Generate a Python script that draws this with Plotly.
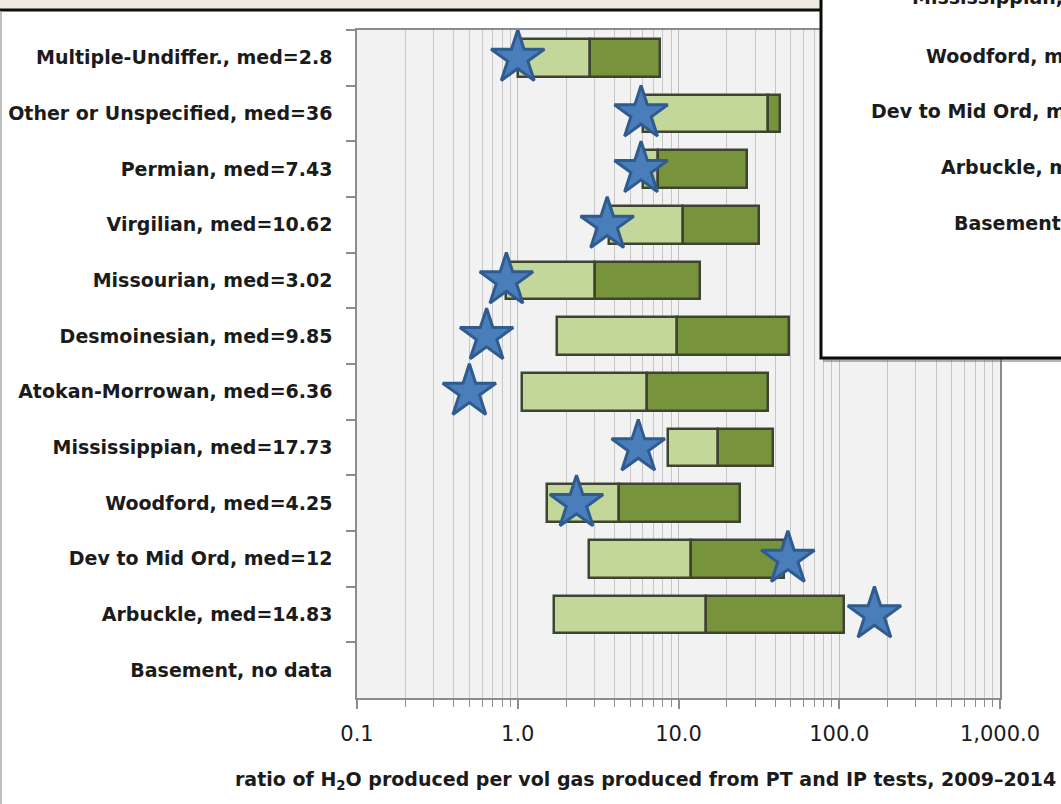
import plotly.graph_objects as go

# ---------------- data ----------------
categories = [
    "Multiple-Undiffer., med=2.8",
    "Other or Unspecified, med=36",
    "Permian, med=7.43",
    "Virgilian, med=10.62",
    "Missourian, med=3.02",
    "Desmoinesian, med=9.85",
    "Atokan-Morrowan, med=6.36",
    "Mississippian, med=17.73",
    "Woodford, med=4.25",
    "Dev to Mid Ord, med=12",
    "Arbuckle, med=14.83",
    "Basement, no data",
]
q1 = [1.0, 5.99, 5.99, 3.68, 0.85, 1.76, 1.06, 8.64, 1.51, 2.78, 1.67, None]
median = [2.8, 36, 7.43, 10.62, 3.02, 9.85, 6.36, 17.73, 4.25, 12, 14.83, None]
q3 = [7.67, 42.8, 26.6, 31.7, 13.6, 48.5, 35.9, 38.9, 24.1, 45.5, 106.4, None]
star_vals = [1.0, 5.85, 5.85, 3.6, 0.85, 0.64, 0.50, 5.62, 2.32, 47.9, 165.5, None]

xtick_vals = [0.1, 1, 10, 100, 1000]
xtick_text = ["0.1", "1.0", "10.0", "100.0", "1,000.0"]

overlay_labels = ["Mississippian, med=", "Woodford, med=", "Dev to Mid Ord, med=",
                  "Arbuckle, med=", "Basement, no data"]

axis_title = "ratio of H<sub>2</sub>O produced per vol gas produced from PT and IP tests, 2009\u20132014"

# ---------------- geometry helpers (page pixels -> paper) ----------------
W, H = 1061, 804
L, R, T, B = 357, 1000, 30, 698


def px(x):
    return (x - L) / (R - L)


def py(y):
    return (B - y) / (B - T)


FONT = "DejaVu Sans"
TXT = "#1b1b1b"
LIGHT = "#c4d79b"
DARK = "#77933c"
EDGE = "#3e4431"

cats_b, low_base, low_len, up_base, up_len = [], [], [], [], []
for c, a, m, b in zip(categories, q1, median, q3):
    if a is None:
        continue
    cats_b.append(c)
    low_base.append(a)
    low_len.append(m - a)
    up_base.append(m)
    up_len.append(b - m)

star_c = [c for c, s in zip(categories, star_vals) if s is not None]
star_x = [s for s in star_vals if s is not None]

fig = go.Figure()
fig.add_trace(go.Bar(
    y=cats_b, x=low_len, base=low_base, orientation="h", width=0.68,
    marker=dict(color=LIGHT, line=dict(color=EDGE, width=2.5)),
    showlegend=False, hoverinfo="skip",
))
fig.add_trace(go.Bar(
    y=cats_b, x=up_len, base=up_base, orientation="h", width=0.68,
    marker=dict(color=DARK, line=dict(color=EDGE, width=2.5)),
    showlegend=False, hoverinfo="skip",
))
fig.add_trace(go.Scatter(
    y=star_c, x=star_x, mode="markers",
    marker=dict(symbol="star", size=40, color="#4a7ebb",
                line=dict(color="#2f5b8f", width=3)),
    showlegend=False, hoverinfo="skip",
))

minor_vals = [k * 10 ** e for e in (-1, 0, 1, 2) for k in range(2, 10)]

fig.update_layout(
    width=W, height=H, autosize=False,
    margin=dict(l=L, r=W - R, t=T, b=H - B, pad=0, autoexpand=False),
    paper_bgcolor="white", plot_bgcolor="#f2f2f2",
    barmode="overlay", bargap=0,
    font=dict(family=FONT, color=TXT),
    xaxis=dict(
        type="log", range=[-1, 3], automargin=False,
        tickvals=xtick_vals, ticktext=xtick_text,
        tickfont=dict(size=21, family=FONT, color=TXT),
        ticks="outside", ticklen=9, tickwidth=1.5, tickcolor="#8c8c8c",
        showgrid=True, gridcolor="#bfbfbf", gridwidth=1.2,
        showline=True, linecolor="#8c8c8c", linewidth=1.5, mirror=True,
        minor=dict(tickvals=minor_vals, ticks="outside", ticklen=7,
                   tickcolor="#8c8c8c", tickwidth=1.2,
                   showgrid=True, gridcolor="#c6c6c6", gridwidth=1.2),
        ticklabelstandoff=7,
        zeroline=False,
    ),
    yaxis=dict(
        type="category", categoryorder="array", categoryarray=categories,
        range=[len(categories) - 0.5, -0.5], autorange=False, automargin=False,
        tickson="boundaries", ticks="outside", ticklen=9, tickwidth=1.5,
        tickcolor="#8c8c8c",
        tickfont=dict(size=19, family=FONT, color=TXT, weight="bold"),
        showgrid=False, showline=True, linecolor="#8c8c8c", linewidth=1.5,
        mirror=True, ticklabelstandoff=19,
    ),
)

shapes = []
# top beige band and black rule
shapes.append(dict(type="rect", xref="paper", yref="paper", layer="above",
                   x0=px(-5), x1=px(822), y0=py(9), y1=py(-5),
                   fillcolor="#eeebe0", line=dict(width=0)))
shapes.append(dict(type="line", xref="paper", yref="paper", layer="above",
                   x0=px(0), x1=px(822), y0=py(10), y1=py(10),
                   line=dict(color="#111111", width=3)))
# left thin grey frame line
shapes.append(dict(type="line", xref="paper", yref="paper", layer="above",
                   x0=px(1), x1=px(1), y0=py(11), y1=py(810),
                   line=dict(color="#a8a8a8", width=1.5)))
# overlay panel (shadow + box)
shapes.append(dict(type="rect", xref="paper", yref="paper", layer="above",
                   x0=px(823), x1=px(1080), y0=py(362), y1=py(-10),
                   fillcolor="rgba(90,90,90,0.45)", line=dict(width=0)))
shapes.append(dict(type="rect", xref="paper", yref="paper", layer="above",
                   x0=px(821), x1=px(1080), y0=py(358), y1=py(-10),
                   fillcolor="white", line=dict(color="#0a0a0a", width=3)))
fig.update_layout(shapes=shapes)

annotations = []
overlay_pos = [(910, -3), (924, 56), (869, 111), (939, 167), (952, 223)]
for txt, (x0, yc) in zip(overlay_labels, overlay_pos):
    annotations.append(dict(
        text=txt, xref="paper", yref="paper", x=px(x0), y=py(yc),
        xanchor="left", yanchor="middle", showarrow=False,
        font=dict(size=19, family=FONT, color=TXT, weight="bold"),
    ))
annotations.append(dict(
    text=axis_title, xref="paper", yref="paper", x=px(645), y=py(780),
    xanchor="center", yanchor="middle", showarrow=False,
    font=dict(size=19, family=FONT, color=TXT, weight="bold"),
))
fig.update_layout(annotations=annotations)

fig.write_html("out.html")
